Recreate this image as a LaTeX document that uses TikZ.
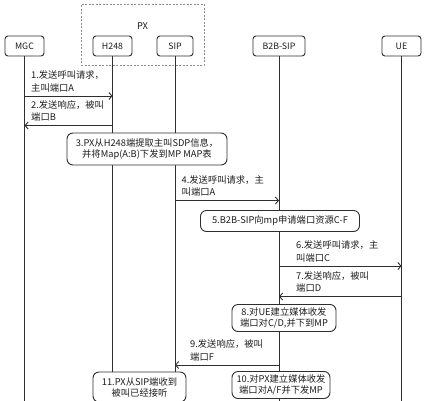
\documentclass[tikz,border=0pt]{standalone}
\usepackage{fontspec}
\setmainfont{Noto Sans CJK SC}
\usetikzlibrary{arrows.meta,positioning}
\definecolor{ink}{HTML}{1E1E1E}
\definecolor{line}{HTML}{2E2E2E}
\definecolor{dash}{HTML}{8C8C8C}
\begin{document}
\begin{tikzpicture}[x=1pt,y=-1pt,
  font=\fontsize{9.3}{12.5}\selectfont,
  every node/.append style={text=ink},
  ent/.style={draw=line, line width=0.9pt, rounded corners=3pt, fill=white, minimum height=20pt, inner xsep=3pt, font=\fontsize{8.8}{10}\selectfont},
  stepbox/.style={draw=line, line width=0.9pt, rounded corners=6pt, fill=white, align=center, inner sep=2pt, font=\fontsize{9.3}{11}\selectfont},
  lbl/.style={align=left, anchor=south west, inner sep=1pt},
  life/.style={draw=line, line width=0.9pt},
  msg/.style={draw=line, line width=0.9pt, -{Straight Barb[length=3pt,width=7pt]}},
]
\useasboundingbox (0,0) rectangle (426,400);
% PX group
\node[draw=dash, dash pattern=on 2pt off 1.5pt, line width=0.6pt, minimum width=123pt, minimum height=61pt] (px) at (142.5,34.5) {};
\node (pxlbl) at (142.5,26) {PX};
% participants
\node[ent, minimum width=39pt] (mgc) at (24.5,46) {MGC};
\node[ent, minimum width=39pt] (h248) at (112.5,46) {H248};
\node[ent, minimum width=36pt] (sip) at (175,46) {SIP};
\node[ent, minimum width=52pt] (b2b) at (279,46) {B2B-SIP};
\node[ent, minimum width=39pt] (ue) at (401.5,46) {UE};
\coordinate (bottom) at (0,402);
\foreach \n in {mgc,h248,sip,b2b,ue}
  \draw[life] (\n.south) -- (\n |- bottom);
% message levels
\coordinate (y1) at (0,96);
\coordinate (y2) at (0,125.5);
\coordinate (y4) at (0,200.5);
\coordinate (y6) at (0,266);
\coordinate (y7) at (0,296.5);
\coordinate (y9) at (0,365);
% messages
\draw[msg] (mgc |- y1) -- (h248 |- y1);
\node[lbl] (t1) at (30,93) {1.发送呼叫请求，\\主叫端口A};
\draw[msg] (h248 |- y2) -- (mgc |- y2);
\node[lbl] (t2) at (30,122.5) {2.发送响应，被叫\\端口B};
\node[stepbox, minimum width=160pt, minimum height=32pt] (s3) at (147,149)
  {3.PX从H248端提取主叫SDP信息，\\并将Map(A:B)下发到MP MAP表};
\draw[msg] (sip |- y4) -- (b2b |- y4);
\node[lbl] (t4) at (180.5,197.5) {4.发送呼叫请求，主\\叫端口A};
\node[stepbox, minimum width=159pt, minimum height=21pt] (s5) at (280,221)
  {5.B2B-SIP向mp申请端口资源C-F};
\draw[msg] (b2b |- y6) -- (ue |- y6);
\node[lbl] (t6) at (295,263) {6.发送呼叫请求，主\\叫端口C};
\draw[msg] (ue |- y7) -- (b2b |- y7);
\node[lbl] (t7) at (295,293.5) {7.发送响应，被叫\\端口D};
\node[stepbox, minimum width=104pt, minimum height=27pt] (s8) at (284,318)
  {8.对UE建立媒体收发\\端口对C/D,并下到MP};
\draw[msg] (b2b |- y9) -- (sip |- y9);
\node[lbl] (t9) at (189,362) {9.发送响应，被叫\\端口F};
\node[stepbox, minimum width=98pt, minimum height=27pt] (s10) at (281,385)
  {10.对PX建立媒体收发\\端口对A/F并下发MP};
\node[stepbox, minimum width=93pt, minimum height=30pt] (s11) at (139.5,387)
  {11.PX从SIP端收到\\被叫已经接听};
\end{tikzpicture}
\end{document}
